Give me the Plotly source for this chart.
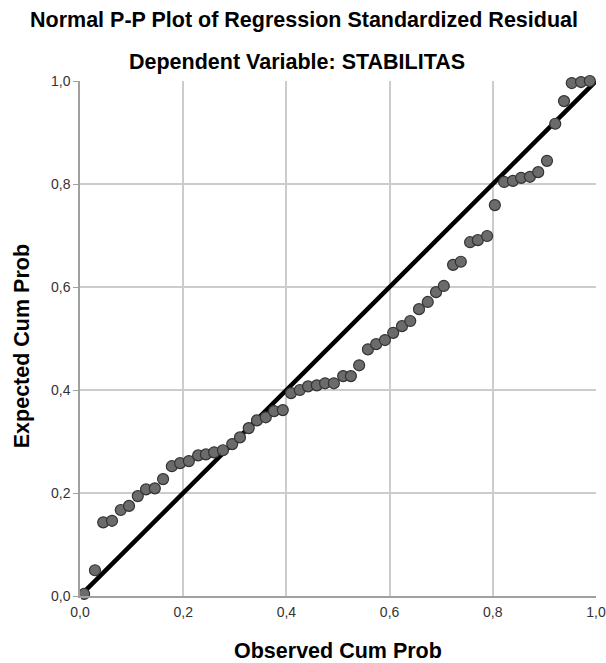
import plotly.graph_objects as go

# observed vs expected cumulative probabilities
observed = [0.008, 0.029, 0.045, 0.062, 0.079, 0.095, 0.112, 0.128, 0.145, 0.161,
            0.178, 0.194, 0.211, 0.229, 0.244, 0.260, 0.277, 0.295, 0.310, 0.327,
            0.343, 0.360, 0.376, 0.393, 0.409, 0.426, 0.442, 0.459, 0.475, 0.492,
            0.510, 0.525, 0.541, 0.558, 0.574, 0.591, 0.607, 0.624, 0.640, 0.657,
            0.674, 0.690, 0.705, 0.723, 0.738, 0.756, 0.771, 0.789, 0.804, 0.822,
            0.839, 0.855, 0.872, 0.888, 0.905, 0.921, 0.938, 0.953, 0.971, 0.988]
expected = [0.004, 0.050, 0.143, 0.146, 0.167, 0.175, 0.194, 0.207, 0.209, 0.227,
            0.252, 0.258, 0.262, 0.273, 0.275, 0.279, 0.283, 0.295, 0.308, 0.326,
            0.341, 0.347, 0.359, 0.361, 0.394, 0.400, 0.407, 0.409, 0.413, 0.413,
            0.427, 0.427, 0.448, 0.479, 0.489, 0.497, 0.511, 0.524, 0.534, 0.557,
            0.571, 0.590, 0.602, 0.643, 0.649, 0.687, 0.691, 0.699, 0.759, 0.804,
            0.806, 0.812, 0.814, 0.823, 0.845, 0.917, 0.961, 0.996, 0.998, 1.000]
diagonal = [0.0, 1.0]
ticks = [0.0, 0.2, 0.4, 0.6, 0.8, 1.0]

FONT = "Arial, Liberation Sans, sans-serif"

fig = go.Figure()
fig.add_trace(go.Scatter(x=diagonal, y=diagonal, mode="lines", cliponaxis=False,
                         line=dict(color="black", width=4.5), showlegend=False))
fig.add_trace(go.Scatter(x=observed, y=expected, mode="markers", cliponaxis=False,
                         marker=dict(size=11, color="#6b6b6b", line=dict(color="#333333", width=1.2)),
                         showlegend=False))

axis = dict(range=[0, 1], tickvals=ticks, tickformat=".1f", showgrid=True, gridcolor="#cccccc",
            gridwidth=1.5, zeroline=False, showline=True, linecolor="#a0a0a0", linewidth=1.5,
            automargin=False, ticklabeloverflow="allow",
            tickfont=dict(family=FONT, size=14, color="#333333"), fixedrange=True)
fig.update_xaxes(**axis, ticks="outside", ticklen=2, tickcolor="white")
fig.update_yaxes(**axis, ticks="outside", ticklen=5, tickcolor="#a0a0a0")

title_font = dict(family=FONT, size=21.5, color="black")
label = dict(xref="paper", yref="paper", showarrow=False, font=title_font,
             xanchor="center", yanchor="middle")
# titles are centred on the page, not on the plot area
fig.add_annotation(text="<b>Normal P-P Plot of Regression Standardized Residual</b>",
                   x=0.434, y=1.0, yshift=61, **label)
fig.add_annotation(text="<b>Dependent Variable: STABILITAS</b>", x=0.42, y=1.0, yshift=19, **label)
fig.add_annotation(text="<b>Observed Cum Prob</b>", x=0.5, y=0, yshift=-55, **label)
fig.add_annotation(text="<b>Expected Cum Prob</b>", x=0, y=0.485, xshift=-58, textangle=-90, **label)

fig.update_layout(width=606, height=663, separators=",.", plot_bgcolor="white", paper_bgcolor="white",
                  margin=dict(l=80, r=10, t=81, b=67), font=dict(family=FONT))
# drop the default 8px body margin so the figure fills the window exactly
fig.write_html("out.html", config={"displayModeBar": False},
               post_script="document.body.style.margin='0';document.body.style.overflow='hidden';")
